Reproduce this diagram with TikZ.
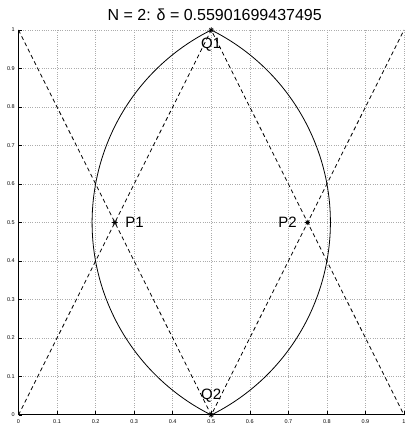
\documentclass[tikz,border=0pt]{standalone}
\usepackage{fontspec}
\setmainfont{Liberation Sans}
\tikzset{
  gridline/.style={gray!65, line width=0.5pt, dash pattern=on 0.7pt off 1.6pt},
  axisline/.style={black, line width=1pt},
  lenscurve/.style={black, line width=0.8pt},
  dashline/.style={black, line width=0.8pt, dash pattern=on 4pt off 3pt},
  ticklabel/.style={font=\fontsize{5.5}{6}\selectfont, inner sep=0pt},
  ptlabel/.style={font=\fontsize{15}{17}\selectfont, inner sep=0pt},
  titlelabel/.style={font=\fontsize{16}{18}\selectfont, inner sep=0pt},
  ptmark/.style={circle, minimum size=5.5pt, inner sep=0pt,
    path picture={\draw[line width=0.7pt]
      (path picture bounding box.north)--(path picture bounding box.south)
      (path picture bounding box.east)--(path picture bounding box.west)
      (path picture bounding box.north east)--(path picture bounding box.south west)
      (path picture bounding box.north west)--(path picture bounding box.south east);}}
}
\begin{document}
\begin{tikzpicture}
\useasboundingbox (0,0) rectangle (409pt,424pt);
\begin{scope}[shift={(18.5pt,9pt)}, x=385.5pt, y=385pt]
  % grid
  \foreach \t in {0.1,0.2,...,1.01} {
    \draw[gridline] (\t,0) -- (\t,1);
    \draw[gridline] (0,\t) -- (1,\t);
  }
  % axes
  \coordinate (c00) at (0,0);
  \coordinate (c01) at (0,1);
  \coordinate (c10) at (1,0);
  \coordinate (c11) at (1,1);
  \draw[axisline] (c01) -- (c00) -- (c10);
  \foreach \t/\l in {0/0,0.1/0.1,0.2/0.2,0.3/0.3,0.4/0.4,0.5/0.5,0.6/0.6,0.7/0.7,0.8/0.8,0.9/0.9,1/1} {
    \draw[black, line width=0.5pt] (\t,0) -- ++(0,3.5pt);
    \draw[black, line width=0.5pt] (0,\t) -- ++(3.5pt,0);
    \node[ticklabel, anchor=north] at ([yshift=-4.3pt]\t,0) {\l};
    \node[ticklabel, anchor=east] at ([xshift=-3.5pt]0,\t) {\l};
  }
  % points
  \node[ptmark] (P1) at (0.25,0.5) {};
  \node[ptmark] (P2) at (0.75,0.5) {};
  \node[ptmark] (Q1) at (0.5,1) {};
  \node[ptmark] (Q2) at (0.5,0) {};
  % dashed lines
  \draw[dashline] (c00) -- (Q1.center) -- (c10);
  \draw[dashline] (c01) -- (Q2.center) -- (c11);
  % lens arcs
  \draw[lenscurve] (Q2.center) arc[start angle=-63.4349, end angle=63.4349, radius=0.5590170];
  \draw[lenscurve] (Q1.center) arc[start angle=116.5651, end angle=243.4349, radius=0.5590170];
  % labels
  \node[ptlabel, anchor=west] (lP1) at (0.277,0.5) {P1};
  \node[ptlabel, anchor=east] (lP2) at (0.722,0.5) {P2};
  \node[ptlabel, anchor=base] (lQ1) at (0.5,0.952) {Q1};
  \node[ptlabel, anchor=base] (lQ2) at (0.5,0.039) {Q2};
  \node[titlelabel, anchor=base] (title) at (0.509,1.0247) {N = 2: δ = 0.55901699437495};
\end{scope}
\end{tikzpicture}
\end{document}
